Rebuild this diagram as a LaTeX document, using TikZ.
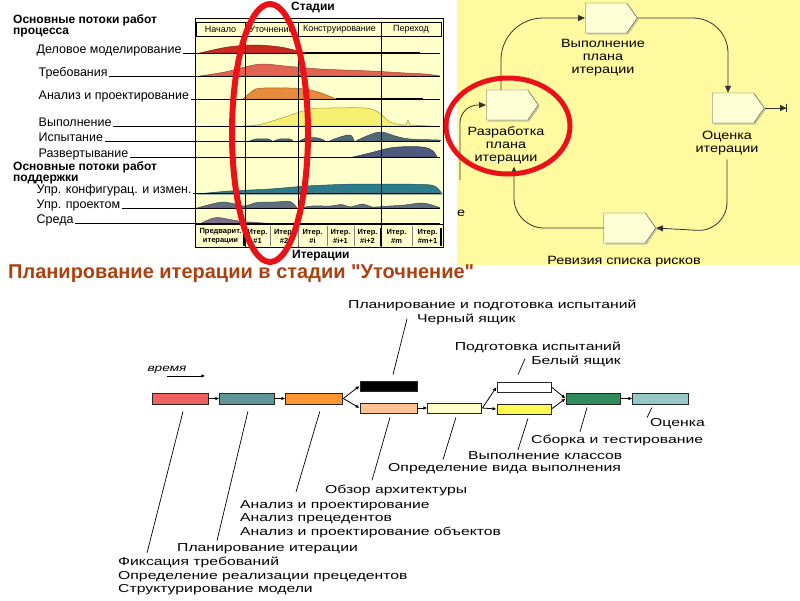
\documentclass[tikz,border=0pt]{standalone}
\usepackage{fontspec}
\setmainfont{Liberation Sans}
\newfontfamily\widefont[FakeStretch=1.37]{Liberation Sans}
\newfontfamily\panelfont[FakeStretch=1.2]{Liberation Sans}
\newfontfamily\titlefont[Ligatures=TeXOff]{Liberation Sans}
\usetikzlibrary{positioning,arrows.meta,shapes.symbols,shadows}
\definecolor{chartbg}{RGB}{255,255,204}
\definecolor{wfA}{RGB}{200,40,30}
\definecolor{wfB}{RGB}{226,100,80}
\definecolor{wfC}{RGB}{232,140,60}
\definecolor{wfD}{RGB}{246,240,112}
\definecolor{wfE}{RGB}{80,105,120}
\definecolor{wfF}{RGB}{76,90,126}
\definecolor{wfG}{RGB}{44,124,140}
\definecolor{wfH}{RGB}{96,110,128}
\definecolor{wfI}{RGB}{126,110,136}
\definecolor{panelbg}{RGB}{255,250,160}
\definecolor{tagfill}{RGB}{255,255,214}
\definecolor{ringred}{RGB}{232,18,24}
\definecolor{titleclr}{RGB}{170,66,16}
\definecolor{barReq}{RGB}{240,96,96}
\definecolor{barPlan}{RGB}{96,150,150}
\definecolor{barAn}{RGB}{255,150,50}
\definecolor{barRev}{RGB}{255,196,146}
\definecolor{barMode}{RGB}{255,255,200}
\definecolor{barCls}{RGB}{255,250,80}
\definecolor{barInt}{RGB}{48,140,92}
\definecolor{barEval}{RGB}{150,200,200}

\begin{document}
\begin{tikzpicture}[x=1pt,y=-1pt,
  wf/.style={font=\fontsize{12.5}{14}\selectfont,inner sep=1.5,anchor=base west},
  head/.style={font=\bfseries\fontsize{12}{11}\selectfont,align=left,inner sep=0,anchor=north west},
  axislbl/.style={font=\bfseries\fontsize{12}{14}\selectfont,inner sep=0},
  stage/.style={font=\fontsize{9}{10}\selectfont,inner sep=0},
  iter/.style={font=\bfseries\fontsize{7.5}{9}\selectfont,align=center,inner sep=0},
  row/.style={line width=0.6},
  hump/.style={fill=#1,draw=#1!65!black,line width=0.5},
  tag/.style={signal,signal to=east,signal from=nowhere,signal pointer angle=110,draw=black!70,fill=tagfill,minimum width=52,minimum height=30,inner sep=0,drop shadow={shadow xshift=1.5pt,shadow yshift=-1.5pt,fill=black!40}},
  plbl/.style={font=\panelfont\fontsize{12}{13}\selectfont,align=center,inner sep=0},
  flow/.style={draw=black!80,line width=0.8,-{Triangle[length=7,width=6]}},
  bar/.style={draw=black!85,line width=0.9,minimum width=56,minimum height=11,inner sep=0},
  link/.style={line width=0.8,-{Latex[length=4,width=3.5]}},
  note/.style={font=\widefont\fontsize{11.5}{13.5}\selectfont,align=left,inner sep=0},
  leader/.style={line width=0.7},
  ring/.style={draw=ringred,line width=#1}]
\useasboundingbox (0,0) rectangle (800,600);

\fill[chartbg] (196,18) rectangle (443,247);
\draw[hump=wfA] plot[smooth,tension=0.6] coordinates {(200,53) (215,49.5) (232,46.5) (255,45) (280,47) (298,51) (308,53)} -- cycle;
\draw[hump=wfB] plot[smooth,tension=0.6] coordinates {(200,76) (225,72) (245,67) (262,64) (285,66) (320,69) (370,71) (405,73) (425,74) (440,76)} -- cycle;
\draw[hump=wfC] plot[smooth,tension=0.6] coordinates {(243,99) (250,93) (258,88.5) (280,88) (300,88.5) (318,92) (336,99)} -- cycle;
\draw[hump=wfD] plot[smooth,tension=0.5] coordinates {(243,126) (260,124.5) (285,117) (310,109) (330,108) (365,108) (378,112) (390,122) (403,125)} -- (406,125) -- (408,120) -- (410,125) -- (430,126) -- cycle;
\draw[hump=wfE] plot[smooth,tension=0.6] coordinates {(250,141) (256,139) (268,139) (272,141)} -- cycle;
\draw[hump=wfE] plot[smooth,tension=0.6] coordinates {(274,141) (280,139) (290,139) (293,141)} -- cycle;
\draw[hump=wfE] plot[smooth,tension=0.6] coordinates {(300,141) (306,138) (318,138) (325,141)} -- cycle;
\draw[hump=wfE] plot[smooth,tension=0.6] coordinates {(330,141) (337,138) (350,135) (354,141)} -- cycle;
\draw[hump=wfE] plot[smooth,tension=0.6] coordinates {(356,141) (368,135.5) (381,132) (395,136) (410,139) (438,140) (440,141)} -- cycle;
\draw[hump=wfF] plot[smooth,tension=0.6] coordinates {(353,157) (370,153) (390,148) (410,146.5) (425,147.5) (433,151) (437,157)} -- cycle;
\draw[hump=wfG] plot[smooth,tension=0.6] coordinates {(197,194) (230,191) (270,189) (307,186) (340,184.5) (363,184) (423,184.5) (436,187) (442,194)} -- cycle;
\draw[hump=wfH] plot[smooth,tension=0.5] coordinates {(197,208) (210,204.5) (223,202) (235,204) (245,206) (257,202.5) (275,202) (290,201.5) (297,208)} -- cycle;
\draw[hump=wfH] plot[smooth,tension=0.5] coordinates {(300,208) (312,206) (330,206) (342,204.5) (350,207) (363,204) (372,207) (390,206) (405,205) (423,203) (438,207) (440,208)} -- cycle;
\draw[hump=wfI] plot[smooth,tension=0.6] coordinates {(200,224) (208,220) (217,217.5) (230,219.5) (243,221.5) (270,223.5) (272,224)} -- cycle;
\draw[line width=1.6] (306,53) -- (420,53);
\draw[line width=1.6] (336,99) -- (423,99);

\coordinate (rowEnd) at (440,0);
\node[wf] (wfBiz) at (35,53) {Деловое моделирование};
\node[wf] (wfReq) at (37,76) {Требования};
\node[wf] (wfAn) at (37,99) {Анализ и проектирование};
\node[wf] (wfImp) at (37,126) {Выполнение};
\node[wf] (wfTest) at (37,141) {Испытание};
\node[wf] (wfDep) at (37,157) {Развертывание};
\node[wf] (wfCfg) at (35,193) {Упр. конфигурац. и измен.};
\node[wf] (wfPm) at (35,208) {Упр. проектом};
\node[wf] (wfEnv) at (35,223) {Среда};
\foreach \wfn in {wfBiz,wfReq,wfAn,wfImp,wfTest,wfDep,wfCfg,wfPm,wfEnv}
  \draw[row] (\wfn.base east) -- (\wfn.base east -| rowEnd);
\node[head] (hdMain) at (13,14) {Основные потоки работ\\процесса};
\node[head] (hdSup) at (13,161.5) {Основные потоки работ\\поддержки};

\foreach \xc in {245,298,381} \draw[line width=0.7] (\xc,36) -- (\xc,247);
\draw[line width=0.8] (195,18) rectangle (443,247);
\foreach \xa/\xb/\st in {196/245/Начало,245/298/Уточнение,298/381/Конструирование,381/441/Переход} {
  \draw[line width=0.6] (\xa,22) rectangle (\xb,36);
  \node[stage] (st\xa) at ({(\xa+\xb)/2},29) {\st};
}
\draw[line width=0.8] (196,224) -- (443,224);
\foreach \xa/\xb/\ta/\tb in {196/245/Предварит./итерации,245/270/Итер./\#1,270/298/Итер./\#2,298/327/Итер./\#i,327/354/Итер./\#i+1,354/381/Итер./\#i+2,381/412/Итер./\#m,412/443/Итер./\#m+1}
  \node[iter] (it\xa) at ({(\xa+\xb)/2},236) {\ta\\\tb};
\foreach \xc in {270,298,327,354,412} \draw[black!50,line width=0.8] (\xc,226) -- (\xc,246);
\foreach \xc in {244,381,441} \draw[line width=2] (\xc,228) -- (\xc,246);
\node[axislbl] (stages) at (313,8) {Стадии};
\node[axislbl,anchor=west] (iters) at (292,256) {Итерации};

\fill[panelbg] (457,0) rectangle (800,265);
\node[tag] (tagExec) at (606,18) {};
\node[tag] (tagEval) at (733,108) {};
\node[tag] (tagRisk) at (624.5,228) {};
\node[tag] (tagDev) at (507,105) {};
\node[plbl,anchor=north] (lbExec) at (603,39) {Выполнение\\плана\\итерации};
\node[plbl,anchor=north] (lbEval) at (727,131) {Оценка\\итерации};
\node[plbl,anchor=north] (lbRisk) at (624,256) {Ревизия списка рисков};
\node[plbl,anchor=north] (lbDev) at (506,126) {Разработка\\плана\\итерации};
\node[plbl] (frag) at (461,213) {е};
\coordinate (evalOut) at (787,108);
\coordinate (devIn) at (460,180);
\draw[flow,rounded corners=42] ([xshift=-6]tagDev.north) -- ([xshift=-6]tagDev.north |- tagExec.west) -- (tagExec.west);
\draw[flow,rounded corners=35] (tagExec.east) -- ([xshift=-5]tagExec.east -| tagEval.north) -- ([xshift=-5]tagEval.north);
\draw[flow,-{Triangle[length=6,width=6]Bar[width=8]}] (tagEval.east) -- (evalOut);
\draw[flow,rounded corners=30] ([yshift=-4]lbEval.south) -- ([yshift=-4]lbEval.south |- tagRisk.east) -- (tagRisk.east);
\draw[flow,rounded corners=30] (tagRisk.west) -- ([xshift=8]tagRisk.west -| lbDev.south) -- ([xshift=8,yshift=-3]lbDev.south);
\draw[flow,rounded corners=18] (devIn) -- (devIn |- tagDev.west) -- (tagDev.west);

\node[anchor=west,inner sep=0,text=titleclr,font=\titlefont\bfseries\fontsize{20}{23}\selectfont] (title) at (8,274) {Планирование итерации в стадии "Уточнение"};

\node[note,font=\widefont\itshape\fontsize{10}{12}\selectfont] (timeLbl) at (167,370) {время};
\draw[link] ([xshift=20,yshift=-2]timeLbl.south west) -- ++(38,0);
\node[bar,fill=barReq] (b1) at (180,398.5) {};
\node[bar,fill=barPlan,minimum width=55,right=11pt of b1] (b2) {};
\node[bar,fill=barAn,minimum width=57,right=10pt of b2] (b3) {};
\node[bar,fill=black,minimum width=57,minimum height=10] (bk) at (388.5,386) {};
\node[bar,fill=barRev,minimum width=57,minimum height=10] (b5) at (388.5,408) {};
\node[bar,fill=barMode,minimum width=54,minimum height=10,right=10pt of b5] (b6) {};
\node[bar,fill=white,minimum width=54,minimum height=10] (bw) at (524,387) {};
\node[bar,fill=barCls,minimum width=54,minimum height=10] (by) at (524,409) {};
\node[bar,fill=barInt,minimum width=54] (bg) at (593,398.5) {};
\node[bar,fill=barEval,right=12pt of bg] (bt) {};
\draw[link] (b1) -- (b2);
\draw[link] (b2) -- (b3);
\draw[link] (b3.east) -- (bk.west);
\draw[link] (b3.east) -- (b5.west);
\draw[link] (b5) -- (b6);
\draw[link] (b6.east) -- (bw.west);
\draw[link] (b6.east) -- (by.west);
\draw[link] (bw.east) -- (bg.west);
\draw[link] (by.east) -- (bg.west);
\draw[link] (bg) -- (bt);

\node[note,anchor=north west] (nReq) at (118,557) {Фиксация требований\\Определение реализации прецедентов\\Структурирование модели};
\node[note,anchor=west] (nPlan) at (177,549) {Планирование итерации};
\node[note,anchor=north west] (nAn) at (240,500) {Анализ и проектирование\\Анализ прецедентов\\Анализ и проектирование объектов};
\node[note,anchor=west] (nRev) at (325,490) {Обзор архитектуры};
\node[note,anchor=west] (nMode) at (388,469) {Определение вида выполнения};
\node[note,anchor=west] (nCls) at (468,456) {Выполнение классов};
\node[note,anchor=west] (nInt) at (531,440) {Сборка и тестирование};
\node[note,anchor=west] (nEval) at (650,424) {Оценка};
\node[note,anchor=north west] (nBlack) at (348,300) {Планирование и подготовка испытаний\\\hspace*{69pt}Черный ящик};
\node[note,anchor=north east,align=right] (nWhite) at (621,342) {Подготовка испытаний\\Белый ящик};
\draw[leader] ([xshift=3,yshift=-7]b1.south) -- ([xshift=29,yshift=4]nReq.north west);
\draw[leader] ([xshift=0.5,yshift=-7]b2.south) -- ([xshift=40,yshift=3]nPlan.north west);
\draw[leader] ([xshift=5.5,yshift=-7]b3.south) -- ([xshift=56,yshift=8]nAn.north west);
\draw[leader] ([xshift=1.5,yshift=-4]b5.south) -- ([xshift=47,yshift=4]nRev.north west);
\draw[leader] ([xshift=1,yshift=-4]b6.south) -- ([xshift=55,yshift=4]nMode.north west);
\draw[leader] ([xshift=4,yshift=-4]by.south) -- ([xshift=50,yshift=2]nCls.north west);
\draw[leader] ([xshift=-6,yshift=-3]bg.south) -- ([xshift=49,yshift=2.5]nInt.north west);
\draw[leader] ([xshift=-9,yshift=-3]bt.south) -- ([xshift=-3,yshift=1]nEval.north west);
\draw[leader] ([xshift=4.5,yshift=6]bk.north) -- ([xshift=59,yshift=6]nBlack.south west);
\draw[leader] ([xshift=-6,yshift=7]bw.north) -- ([xshift=-96,yshift=8]nWhite.south east);

\draw[ring=6] (270,133) ellipse [x radius=38,y radius=129];
\draw[ring=5] (508,126) ellipse [x radius=62,y radius=48];
\end{tikzpicture}
\end{document}
